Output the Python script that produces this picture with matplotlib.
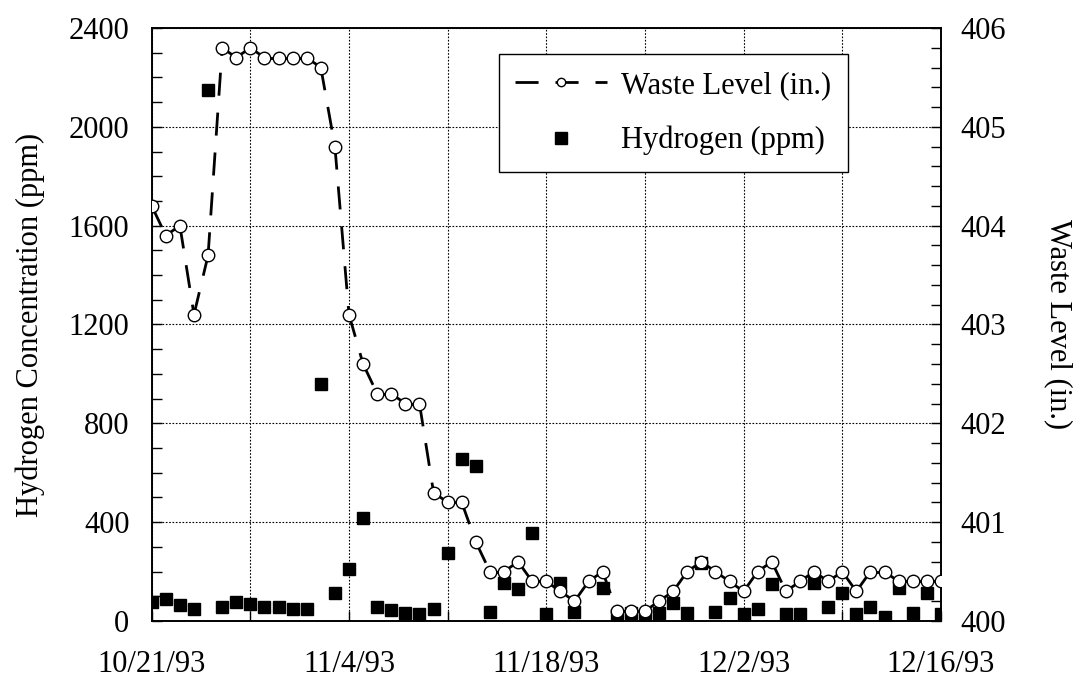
import matplotlib
matplotlib.use("Agg")
import matplotlib.pyplot as plt
import matplotlib.dates as mdates
import numpy as np
import pandas as pd
from matplotlib.collections import LineCollection
from matplotlib.lines import Line2D
from matplotlib.ticker import MultipleLocator, NullLocator

# daily readings, 10/21/93 .. 12/16/93
start_date = "1993-10-21"
waste_level = [
    404.2, 403.9, 404.0, 403.1, 403.7, 405.8, 405.7, 405.8, 405.7, 405.7,
    405.7, 405.7, 405.6, 404.8, 403.1, 402.6, 402.3, 402.3, 402.2, 402.2,
    401.3, 401.2, 401.2, 400.8, 400.5, 400.5, 400.6, 400.4, 400.4, 400.3,
    400.2, 400.4, 400.5, 400.1, 400.1, 400.1, 400.2, 400.3, 400.5, 400.6,
    400.5, 400.4, 400.3, 400.5, 400.6, 400.3, 400.4, 400.5, 400.4, 400.5,
    400.3, 400.5, 400.5, 400.4, 400.4, 400.4, 400.4,
]
hydrogen = [
    78, 88, 64, 47, 2150, 55, 76, 68, 55, 55,
    47, 47, 960, 115, 209, 416, 55, 45, 31, 27,
    47, 277, 656, 629, 38, 153, 128, 357, 27, 155,
    38, np.nan, 132, 24, 34, 24, 34, 72, 31, 236,
    38, 94, 27, 47, 149, 27, 27, 155, 55, 115,
    27, 55, 15, 132, 31, 115, 27,
]
tick_labels = ["10/21/93", "", "11/4/93", "", "11/18/93", "", "12/2/93", "", "12/16/93"]

dates = pd.date_range(start_date, periods=len(waste_level), freq="D")

plt.rcParams["font.family"] = ["Liberation Serif", "DejaVu Serif"]
plt.rcParams["font.size"] = 22

DASH = (0, (8.3, 6.1))

fig = plt.figure(figsize=(10.79, 6.81), dpi=100)
ax = fig.add_axes([0.1406, 0.0881, 0.872 - 0.1406, 0.9589 - 0.0881])
ax2 = ax.twinx()

ax.plot(dates, hydrogen, linestyle="none", marker="s", markersize=9,
        color="black")

# each segment restarts its dash pattern, like the original plot
xnum = mdates.date2num(dates)
pts = np.column_stack([xnum, waste_level])
segs = np.stack([pts[:-1], pts[1:]], axis=1)
ax2.add_collection(LineCollection(segs, colors="black", linewidths=2,
                                  linestyles=[DASH], zorder=2))
ax2.plot(dates, waste_level, linestyle="none", marker="o", markersize=9,
         markerfacecolor="white", markeredgecolor="black",
         markeredgewidth=1.0, zorder=3)

ax.set_xlim(dates[0], dates[-1])
ax.set_ylim(0, 2400)
ax2.set_ylim(400, 406)

tick_dates = pd.date_range(start_date, periods=len(tick_labels), freq="7D")
ax.set_xticks(tick_dates)
ax.set_xticklabels(tick_labels)
ax.xaxis.set_minor_locator(NullLocator())
ax.yaxis.set_major_locator(MultipleLocator(400))
ax.yaxis.set_minor_locator(MultipleLocator(100))
ax2.yaxis.set_major_locator(MultipleLocator(1))
ax2.yaxis.set_minor_locator(MultipleLocator(0.2))

ax.grid(True, which="major", color="black", linestyle=(0, (1.5, 1.5)), linewidth=0.8)
ax.tick_params(axis="both", which="both", direction="in", length=7, width=1)
ax.tick_params(axis="x", pad=21)
ax.tick_params(axis="y", pad=16)
ax2.tick_params(axis="y", which="both", direction="in", length=7, width=1, pad=14)

for a in (ax, ax2):
    for s in a.spines.values():
        s.set_linewidth(1.2)

ax.set_ylabel("Hydrogen Concentration (ppm)", labelpad=17)
ax2.set_ylabel("Waste Level (in.)", rotation=270, labelpad=48)

wl_handle = Line2D([], [], color="black", linewidth=2, linestyle=DASH,
                   marker="o", markersize=6, markerfacecolor="white",
                   markeredgecolor="black", markeredgewidth=1.0)
h_handle = Line2D([], [], linestyle="none", marker="s", markersize=9,
                  color="black")
leg = ax2.legend([wl_handle, h_handle], ["Waste Level (in.)", "Hydrogen (ppm)"],
                 loc="upper right", bbox_to_anchor=(0.882, 0.956),
                 borderaxespad=0, handlelength=3.0, fancybox=False,
                 framealpha=1, edgecolor="black", borderpad=0.55,
                 labelspacing=0.85, handletextpad=0.45)
leg.get_frame().set_linewidth(1.0)

fig.savefig("out.png", dpi=100)
